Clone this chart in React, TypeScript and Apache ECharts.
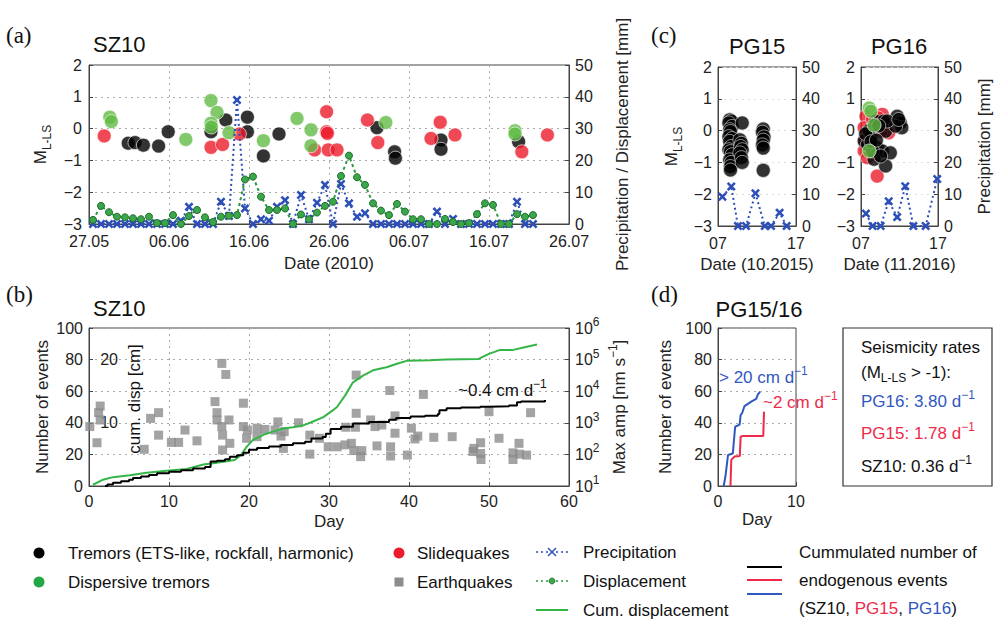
import React, { useEffect, useRef } from 'react';
import * as echarts from 'echarts';

const FONT = '"Liberation Sans", Arial, sans-serif';
const SERIF = '"Liberation Serif", "Times New Roman", serif';

// tick labels
const dateLabels = ['27.05', '06.06', '16.06', '26.06', '06.07', '16.07', '26.07'];
const dayLabelsC = ['07', '17'];
const startDayC = 7;

// (a) SZ10 events: [day since 27.05, M_L-LS]
const tremorsA = [[4.9, -0.46], [5.75, -0.44], [6.8, -0.52], [8.7, -0.55], [9.9, -0.1], [15.25, -0.1], [17.1, 0.27], [19.8, 0.36], [19.8, -0.1], [21.8, -0.86], [23.75, -0.17], [36, 0.03], [38.2, -0.73], [38.3, -0.93], [44, -0.36], [44, -0.65], [53.7, -0.41]];
const slidequakesA = [[1.9, -0.23], [15.25, -0.59], [16.7, -0.5], [18.8, -0.17], [28.2, -0.67], [29.7, 0.53], [29.7, -0.1], [29.8, -0.15], [29.9, -0.67], [31, -0.67], [34.8, 0.27], [36.1, -0.44], [42.75, -0.31], [43.9, 0.2], [45.75, -0.2], [54.1, -0.73], [57.3, -0.2]];
const dispersiveA = [[2.6, 0.36], [2.8, 0.22], [12.1, -0.34], [15.25, 0.88], [16.0, 0.51], [15.25, 0.17], [15.3, 0.05], [17.5, -0.13], [21.8, -0.38], [26, 0.32], [27.75, -0.04], [27.75, -0.54], [37.1, 0.19], [53.25, -0.07], [53.25, -0.17]];
// daily values (mm), first value at day 0.5
const precipA = [0, 0, 0, 0, 0, 0, 0, 0, 0, 0, 0, 1, 5.4, 0, 0, 0, 7, 2.5, 39, 4.9, 0, 1.5, 1, 5.4, 7.5, 0, 9.1, 1.5, 6.7, 12.3, 0, 12.6, 6.5, 2.3, 3.4, 0, 0, 0, 0, 0, 0, 0, 0, 3.9, 0, 1.6, 0, 0, 0, 0, 0, 0, 0, 7, 0, 0];
const dispA = [1.3, 5.7, 3.7, 2.3, 2.1, 1.8, 1.5, 2.3, 0.3, 0.3, 2.8, 0, 2.5, 4.4, 2.1, 0.6, 2.3, 2.6, 2.8, 14, 14.9, 8.6, 4.4, 4.4, 4.9, 0, 3, 1.5, 3.6, 5.7, 7, 15.1, 21.5, 14.7, 12.3, 6.5, 4.2, 2.8, 6.3, 3.9, 1.5, 1.5, 0, 0, 1.6, 0.6, 0, 0.3, 3.1, 6.5, 6, 0, 0, 3.1, 2.3, 2.8];

// (b) SZ10: earthquakes [day, max amp nm/s]
const earthquakesB = [[0.1, 760], [1.0, 234], [1.2, 2090], [1.4, 3390], [1.4, 1230], [6.9, 145], [7.7, 1380], [8.7, 2090], [8.7, 407], [10.3, 240], [11.2, 240], [12.0, 589], [13.5, 269], [15.75, 4680], [16, 2090], [16, 1230], [16.6, 75900], [16.6, 760], [16.7, 407], [16.7, 138], [17.1, 33900], [17.5, 1230], [17.6, 224], [19.3, 4170], [19.3, 760], [19.7, 324], [19.8, 589], [21, 676], [21, 363], [22, 617], [23.25, 589], [23.6, 1070], [24, 380], [24.3, 155], [24.4, 525], [26.2, 1000], [27.6, 407], [27.6, 102], [28.8, 324], [29.9, 174], [31, 174], [32, 200], [32.1, 724], [32.8, 224], [33.1, 132], [33.4, 32400], [33.4, 2000], [33.3, 724], [33.96, 85], [34.1, 132], [35.2, 1230], [35.75, 760], [36, 186], [36.6, 851], [37.6, 10500], [37.7, 174], [37.7, 89], [38.25, 1660], [38.25, 468], [39.8, 95], [40.3, 676], [40.75, 309], [41.1, 380], [41.8, 7940], [43.1, 347], [45.4, 363], [48, 123], [48.1, 155], [48.95, 234], [48.95, 107], [49, 69], [50, 2240], [51.25, 324], [53, 112], [53, 69], [53.75, 224], [53.8, 102], [54.7, 95], [55.2, 2090]];
// cumulated number of endogenous events SZ10 [day, count]
const cumEventsSZ10 = [[2, 0], [2.3, 1], [3, 2], [4, 3], [5, 4], [5.5, 5], [6.5, 6], [7.5, 7], [8.5, 8], [10, 9], [11.5, 10], [13, 11], [14.5, 12], [15.2, 15.5], [16, 16], [17, 17], [17.6, 18.5], [18.5, 19.5], [19.3, 21], [20, 23], [21, 24], [22.5, 25], [24, 26], [25.5, 27], [27, 28], [27.8, 30], [29.2, 31], [29.6, 33], [30.2, 36], [31.5, 37.5], [33, 39.5], [35, 40.5], [37.5, 42], [38.4, 43], [40.2, 44], [42, 44.5], [43.6, 45.5], [43.8, 48], [44.7, 49.2], [46.5, 49.7], [48.9, 50.2], [50, 50.5], [52.5, 51], [53.5, 53], [54, 53.5], [57, 54.5]];
// cumulative displacement [day, cm]
const cumDispB = [[0.5, 0.2], [1.75, 1.0], [3, 1.4], [5.1, 1.7], [7.2, 2.1], [9.7, 2.4], [12.2, 2.7], [14.3, 3.4], [15.5, 3.6], [17.2, 3.9], [18.2, 4.1], [19, 4.9], [19.7, 6.2], [20.5, 7.3], [21.8, 8.1], [23, 8.6], [24.3, 9.1], [25.5, 9.3], [26.8, 9.6], [28, 10.2], [29.3, 10.9], [30.5, 12], [31, 12.5], [32, 14.3], [33, 16.4], [34.3, 17.5], [35.5, 18.3], [37.2, 18.8], [38.4, 19.3], [39.7, 19.8], [42.6, 19.9], [44.6, 20.0], [48.7, 20.1], [50, 20.9], [51.3, 21.5], [52.9, 21.5], [54.6, 22], [56, 22.4]];

// (c) PG15 (10.2015) and PG16 (11.2016): [day of month, M_L-LS]
const pg15Tremors = [[8.5, 0.34], [8.7, 0.3], [8.4, 0.24], [8.8, 0.13], [8.5, 0.03], [8.6, -0.03], [8.4, -0.19], [8.8, -0.25], [8.5, -0.34], [8.7, -0.5], [8.4, -0.6], [8.6, -0.66], [8.8, -0.76], [8.5, -0.92], [8.7, -1.0], [8.6, -1.13], [8.6, -1.24], [10.1, 0.24], [9.8, -0.29], [10.0, -0.4], [9.9, -0.5], [10.1, -0.6], [9.8, -0.7], [10.0, -0.85], [10.1, -1.0], [12.8, 0.05], [12.7, -0.05], [12.9, -0.2], [12.8, -0.3], [12.7, -0.45], [12.8, -0.55], [12.8, -1.25]];
const pg15Precip = [[7.56, 9.2], [8.7, 12.4], [9.56, 0], [10.6, 0], [11.8, 10.3], [13, 0], [13.8, 0], [14.9, 4.2], [15.8, 0]];
const pg16Tremors = [[7.42, -0.33], [8.28, -0.17], [8.9, 0.3], [9.97, 0.3], [10.2, -0.02], [9.1, -0.54], [9.77, -0.64], [8.7, -0.9], [10.2, -1.11], [10.8, -0.7], [11.7, 0.45], [12.1, 0.24], [12.3, 0.09], [11.5, 0.14], [7.85, -0.43], [8.5, -0.64], [9.55, -0.8], [8.06, 0], [10.4, 0.3], [7.6, -0.1], [9.3, 0.15], [11.9, 0.35], [8.3, -0.35], [9.0, -0.3]];
const pg16Slidequakes = [[7.64, 0.45], [9.77, 0.51], [10.6, -0.07], [9.1, -1.43], [7.4, 0.09], [7.4, -0.64], [7.85, -0.85], [9.55, -0.02], [8.5, 0.35], [10.1, 0.2], [7.5, -0.3], [9.2, 0.4]];
const pg16Dispersive = [[8.06, 0.71], [8.28, 0.61], [8.7, 0.17], [8.06, -0.64]];
const pg16Precip = [[7.64, 3.9], [8.5, 0], [9.55, 0], [10.6, 7.8], [11.7, 2.8], [12.75, 12.5], [13.8, 0], [15.4, 0], [16.9, 14.8]];

// (d) cumulated events [day, count]
const cumPG15 = [[1.6, 0], [1.7, 16.5], [2.1, 18.6], [2.8, 19], [2.9, 31.2], [3.2, 31.6], [5.8, 31.6], [5.9, 47]];
const cumPG16 = [[0.73, 0], [0.95, 6], [1.28, 19.6], [1.9, 20.6], [2.2, 37.5], [2.77, 38.8], [2.9, 44.9], [3.1, 46.2], [3.4, 50.6], [4.26, 53.4], [4.9, 55.1], [5.1, 57.8], [5.4, 59.7]];

const BLACK = '#000000';
const RED = '#ec1c2c';
const GREEN = '#62bb46';
const LGREEN = '#21a845';
const BLUE = '#2d4fb8';
const DGREEN = '#2a9a3c';
const CUMGREEN = '#35b548';
const GRAY = '#8c8c8c';
const PRED = '#ee2a4a';
const PBLUE = '#3058c0';

const XSYM = 'path://M2,0L5,3L8,0L10,2L7,5L10,8L8,10L5,7L2,10L0,8L3,5L0,2Z';

const minus = (v: number) => (v < 0 ? '\u2212' + Math.abs(v) : String(v));
const lab = { color: '#222', fontSize: 16, fontFamily: FONT };
const nameStyle = { color: '#222', fontSize: 17, fontFamily: FONT };
const axLine = { show: true, onZero: false, lineStyle: { color: '#444', width: 1 } };
const tick = { show: true, inside: true, length: 4, lineStyle: { color: '#444' } };
const dotted = { show: true, lineStyle: { color: '#aaa', type: [2, 4], width: 1 } };
const faint = { show: true, lineStyle: { color: '#ddd', type: [2, 4], width: 1 } };
const noSplit = { show: false };

const subRich = {
  m: { fontSize: 17, fontFamily: FONT, color: '#222', lineHeight: 26 },
  s: { fontSize: 12, fontFamily: FONT, color: '#222', lineHeight: 12, verticalAlign: 'bottom' },
};
const supRich = (color: string, size = 17) => ({
  a: { fontSize: size, fontFamily: FONT, color, fill: color, lineHeight: 24 },
  s: { fontSize: 12, fontFamily: FONT, color, fill: color, lineHeight: 12, verticalAlign: 'top' },
});

const gridBase = { show: true, borderColor: '#444', borderWidth: 1, backgroundColor: 'transparent', containLabel: false, outerBoundsMode: 'none' };

function txt(x: number, y: number, text: string, opts: any = {}) {
  const align = opts.align || 'left';
  return {
    type: 'text', x, y, rotation: opts.rotation || 0, z: 100,
    style: {
      text, font: opts.font || `17px ${FONT}`, fill: opts.fill || '#111',
      align, textAlign: align, verticalAlign: 'middle', textVerticalAlign: 'middle',
      rich: opts.rich,
    },
  };
}

export default function App() {
  const ref = useRef<HTMLDivElement>(null);
  useEffect(() => {
    if (!ref.current) return;
    const chart = echarts.init(ref.current, undefined, { renderer: 'svg' });

    const offC = (arr: number[][]) => arr.map(([d, v]) => [d - startDayC, v]);
    const halfDay = (arr: number[]) => arr.map((v, i) => [i + 0.5, v]);

    const option: any = {
      animation: false,
      backgroundColor: '#ffffff',
      grid: [
        { ...gridBase, left: 89, top: 65, width: 480, height: 159 },
        { ...gridBase, left: 89, top: 328, width: 480, height: 158 },
        { ...gridBase, left: 718, top: 67, width: 78, height: 159 },
        { ...gridBase, left: 861, top: 67, width: 77, height: 159 },
        { ...gridBase, left: 718, top: 328, width: 78, height: 158 },
      ],
      xAxis: [
        {
          gridIndex: 0, type: 'value', min: 0, max: 60, interval: 10,
          axisLine: axLine, axisTick: tick, splitLine: dotted,
          axisLabel: { ...lab, margin: 9, formatter: (v: number) => dateLabels[Math.round(v / 10)] ?? '' },
          name: 'Date (2010)', nameLocation: 'middle', nameGap: 31, nameTextStyle: nameStyle,
        },
        {
          gridIndex: 1, type: 'value', min: 0, max: 60, interval: 10,
          axisLine: axLine, axisTick: tick, splitLine: dotted,
          axisLabel: { ...lab, margin: 7 },
          name: 'Day', nameLocation: 'middle', nameGap: 27, nameTextStyle: nameStyle,
        },
        {
          gridIndex: 2, type: 'value', min: 0, max: 10, interval: 10,
          axisLine: axLine, axisTick: tick, splitLine: noSplit,
          axisLabel: { ...lab, margin: 9, formatter: (v: number) => dayLabelsC[Math.round(v / 10)] ?? '' },
          name: 'Date (10.2015)', nameLocation: 'middle', nameGap: 30, nameTextStyle: nameStyle,
        },
        {
          gridIndex: 3, type: 'value', min: 0, max: 10, interval: 10,
          axisLine: axLine, axisTick: tick, splitLine: noSplit,
          axisLabel: { ...lab, margin: 9, formatter: (v: number) => dayLabelsC[Math.round(v / 10)] ?? '' },
          name: 'Date (11.2016)', nameLocation: 'middle', nameGap: 30, nameTextStyle: nameStyle,
        },
        {
          gridIndex: 4, type: 'value', min: 0, max: 10, interval: 10,
          axisLine: axLine, axisTick: tick, splitLine: noSplit,
          axisLabel: { ...lab, margin: 7 },
          name: 'Day', nameLocation: 'middle', nameGap: 25, nameTextStyle: nameStyle,
        },
      ],
      yAxis: [
        {
          gridIndex: 0, type: 'value', position: 'left', min: -3, max: 2, interval: 1,
          axisLine: axLine, axisTick: tick, splitLine: dotted,
          axisLabel: { ...lab, margin: 7, formatter: minus },
          name: '{m|M}{s|L-LS}', nameLocation: 'middle', nameGap: 36, nameTextStyle: { rich: subRich },
        },
        {
          gridIndex: 0, type: 'value', position: 'right', min: 0, max: 50, interval: 10,
          axisLine: axLine, axisTick: tick, splitLine: noSplit,
          axisLabel: { ...lab, margin: 6 },
          name: 'Precipitation / Displacement [mm]', nameLocation: 'middle', nameGap: 45, nameTextStyle: nameStyle,
        },
        {
          gridIndex: 1, type: 'value', position: 'left', min: 0, max: 100, interval: 20,
          axisLine: axLine, axisTick: tick, splitLine: dotted,
          axisLabel: { ...lab, margin: 6 },
          name: 'Number of events', nameLocation: 'middle', nameGap: 38, nameTextStyle: nameStyle,
        },
        {
          gridIndex: 1, type: 'log', logBase: 10, position: 'right', min: 10, max: 1000000,
          axisLine: axLine, axisTick: tick, splitLine: noSplit,
          axisLabel: {
            ...lab, margin: 6,
            formatter: (v: number) => `{a|10}{s|${Math.round(Math.log10(v))}}`,
            rich: supRich('#222', 16),
          },
          name: '{a|Max amp [nm s}{s|\u22121}{a|]}', nameLocation: 'middle', nameGap: 38,
          nameTextStyle: { rich: supRich('#222', 17) },
        },
        {
          gridIndex: 1, type: 'value', position: 'left', offset: -37, min: 0, max: 25, interval: 10,
          axisLine: { show: false }, axisTick: { show: false }, splitLine: noSplit,
          axisLabel: { ...lab, margin: 8, formatter: (v: number) => (v === 10 || v === 20 ? String(v) : '') },
        },
        {
          gridIndex: 2, type: 'value', position: 'left', min: -3, max: 2, interval: 1,
          axisLine: axLine, axisTick: tick, splitLine: faint,
          axisLabel: { ...lab, margin: 6, formatter: minus },
          name: '{m|M}{s|L-LS}', nameLocation: 'middle', nameGap: 34, nameTextStyle: { rich: subRich },
        },
        {
          gridIndex: 2, type: 'value', position: 'right', min: 0, max: 50, interval: 10,
          axisLine: axLine, axisTick: tick, splitLine: noSplit,
          axisLabel: { ...lab, margin: 6 },
        },
        {
          gridIndex: 3, type: 'value', position: 'left', min: -3, max: 2, interval: 1,
          axisLine: axLine, axisTick: tick, splitLine: faint,
          axisLabel: { ...lab, margin: 6, formatter: minus },
        },
        {
          gridIndex: 3, type: 'value', position: 'right', min: 0, max: 50, interval: 10,
          axisLine: axLine, axisTick: tick, splitLine: noSplit,
          axisLabel: { ...lab, margin: 6 },
          name: 'Precipitation [mm]', nameLocation: 'middle', nameGap: 38, nameTextStyle: nameStyle,
        },
        {
          gridIndex: 4, type: 'value', position: 'left', min: 0, max: 100, interval: 20,
          axisLine: axLine, axisTick: tick, splitLine: dotted,
          axisLabel: { ...lab, margin: 6 },
          name: 'Number of events', nameLocation: 'middle', nameGap: 44, nameTextStyle: nameStyle,
        },
      ],
      series: [
        // (a)
        { type: 'scatter', xAxisIndex: 0, yAxisIndex: 0, data: tremorsA, symbolSize: 14, itemStyle: { color: BLACK, borderColor: '#fff', borderWidth: 0.8 } },
        { type: 'scatter', xAxisIndex: 0, yAxisIndex: 0, data: slidequakesA, symbolSize: 14, itemStyle: { color: RED, borderColor: '#fff', borderWidth: 0.8 } },
        { type: 'scatter', xAxisIndex: 0, yAxisIndex: 0, data: dispersiveA, symbolSize: 14, itemStyle: { color: GREEN, borderColor: '#fff', borderWidth: 0.8 } },
        { type: 'line', xAxisIndex: 0, yAxisIndex: 1, data: halfDay(precipA), symbol: XSYM, symbolSize: 9, lineStyle: { color: BLUE, width: 2, type: [2, 3] }, itemStyle: { color: BLUE } },
        { type: 'line', xAxisIndex: 0, yAxisIndex: 1, data: halfDay(dispA), symbol: 'circle', symbolSize: 7, lineStyle: { color: DGREEN, width: 2, type: [3, 3] }, itemStyle: { color: '#3aa84a', borderColor: '#1d6b2a', borderWidth: 1 } },
        // (b)
        { type: 'scatter', xAxisIndex: 1, yAxisIndex: 3, data: earthquakesB, symbol: 'rect', symbolSize: 9, itemStyle: { color: GRAY } },
        { type: 'line', xAxisIndex: 1, yAxisIndex: 4, data: cumDispB, showSymbol: false, symbol: 'none', lineStyle: { color: CUMGREEN, width: 2 } },
        { type: 'line', xAxisIndex: 1, yAxisIndex: 2, data: cumEventsSZ10, step: 'end', showSymbol: false, symbol: 'none', lineStyle: { color: BLACK, width: 2 } },
        // (c) PG15
        { type: 'scatter', xAxisIndex: 2, yAxisIndex: 5, data: offC(pg15Tremors), symbolSize: 14, itemStyle: { color: BLACK, borderColor: '#ddd', borderWidth: 0.8 } },
        { type: 'line', xAxisIndex: 2, yAxisIndex: 6, data: offC(pg15Precip), symbol: XSYM, symbolSize: 9, lineStyle: { color: BLUE, width: 2, type: [2, 3] }, itemStyle: { color: BLUE } },
        // (c) PG16
        { type: 'scatter', xAxisIndex: 3, yAxisIndex: 7, data: offC(pg16Slidequakes), symbolSize: 14, itemStyle: { color: RED, borderColor: '#fff', borderWidth: 0.8 } },
        { type: 'scatter', xAxisIndex: 3, yAxisIndex: 7, data: offC(pg16Tremors), symbolSize: 14, itemStyle: { color: BLACK, borderColor: '#ddd', borderWidth: 0.8 } },
        { type: 'scatter', xAxisIndex: 3, yAxisIndex: 7, data: offC(pg16Dispersive), symbolSize: 14, itemStyle: { color: GREEN, borderColor: '#fff', borderWidth: 0.8 } },
        { type: 'line', xAxisIndex: 3, yAxisIndex: 8, data: offC(pg16Precip), symbol: XSYM, symbolSize: 9, lineStyle: { color: BLUE, width: 2, type: [2, 3] }, itemStyle: { color: BLUE } },
        // (d)
        { type: 'line', xAxisIndex: 4, yAxisIndex: 9, data: cumPG15, symbol: 'none', lineStyle: { color: PRED, width: 2 } },
        { type: 'line', xAxisIndex: 4, yAxisIndex: 9, data: cumPG16, symbol: 'none', lineStyle: { color: PBLUE, width: 2 } },
      ],
      graphic: [
        txt(6, 35, '(a)', { font: `23px ${SERIF}` }),
        txt(93, 44, 'SZ10', { font: `22px ${FONT}` }),
        txt(6, 294, '(b)', { font: `23px ${SERIF}` }),
        txt(93, 308, 'SZ10', { font: `22px ${FONT}` }),
        txt(651, 35, '(c)', { font: `23px ${SERIF}` }),
        txt(757, 46, 'PG15', { font: `22px ${FONT}`, align: 'center' }),
        txt(899, 46, 'PG16', { font: `22px ${FONT}`, align: 'center' }),
        txt(651, 294, '(d)', { font: `23px ${SERIF}` }),
        txt(759, 309, 'PG15/16', { font: `22px ${FONT}`, align: 'center' }),
        txt(134, 399, 'cum. disp [cm]', { align: 'center', rotation: Math.PI / 2 }),
        txt(458, 390, '{a|~0.4 cm d}{s|\u22121}', { rich: supRich('#111', 17) }),
        txt(719, 377, '{a|> 20 cm d}{s|\u22121}', { rich: supRich(PBLUE, 17) }),
        txt(763, 402, '{a|~2 cm d}{s|\u22121}', { rich: supRich(PRED, 17) }),
        { type: 'rect', shape: { x: 843, y: 328, width: 149, height: 158 }, style: { fill: 'none', stroke: '#333', lineWidth: 1.2 } },
        txt(861, 347, 'Seismicity rates'),
        txt(861, 372, '{m|(M}{s|L-LS}{m| > -1):}', { rich: { m: { fontSize: 17, fontFamily: FONT, fill: '#111', lineHeight: 24 }, s: { fontSize: 12, fontFamily: FONT, fill: '#111', lineHeight: 12, verticalAlign: 'bottom' } } }),
        txt(861, 401, '{a|PG16: 3.80 d}{s|\u22121}', { rich: supRich(PBLUE, 17), fill: PBLUE }),
        txt(861, 433, '{a|PG15: 1.78 d}{s|\u22121}', { rich: supRich(PRED, 17), fill: PRED }),
        txt(861, 466, '{a|SZ10: 0.36 d}{s|\u22121}', { rich: supRich('#111', 17) }),
        // legend
        { type: 'circle', shape: { cx: 39, cy: 553, r: 5.5 }, style: { fill: BLACK } },
        txt(68, 553, 'Tremors (ETS-like, rockfall, harmonic)'),
        { type: 'circle', shape: { cx: 39, cy: 582, r: 5.5 }, style: { fill: LGREEN } },
        txt(68, 582, 'Dispersive tremors'),
        { type: 'circle', shape: { cx: 399, cy: 553, r: 5.5 }, style: { fill: RED } },
        txt(417, 553, 'Slidequakes'),
        { type: 'rect', shape: { x: 394.5, y: 577.5, width: 9, height: 9 }, style: { fill: GRAY } },
        txt(417, 582, 'Earthquakes'),
        { type: 'line', shape: { x1: 536, y1: 552, x2: 568, y2: 552 }, style: { stroke: BLUE, lineWidth: 1.5, lineDash: [2, 3] } },
        { type: 'line', shape: { x1: 548, y1: 548, x2: 556, y2: 556 }, style: { stroke: BLUE, lineWidth: 1.5 } },
        { type: 'line', shape: { x1: 548, y1: 556, x2: 556, y2: 548 }, style: { stroke: BLUE, lineWidth: 1.5 } },
        txt(583, 552, 'Precipitation'),
        { type: 'line', shape: { x1: 536, y1: 581, x2: 568, y2: 581 }, style: { stroke: DGREEN, lineWidth: 1.5, lineDash: [2, 3] } },
        { type: 'circle', shape: { cx: 552, cy: 581, r: 3 }, style: { fill: '#3aa84a', stroke: '#1d6b2a', lineWidth: 0.8 } },
        txt(583, 581, 'Displacement'),
        { type: 'line', shape: { x1: 536, y1: 610, x2: 568, y2: 610 }, style: { stroke: CUMGREEN, lineWidth: 2 } },
        txt(583, 610, 'Cum. displacement'),
        { type: 'line', shape: { x1: 747, y1: 567, x2: 782, y2: 567 }, style: { stroke: BLACK, lineWidth: 2 } },
        { type: 'line', shape: { x1: 747, y1: 580, x2: 782, y2: 580 }, style: { stroke: PRED, lineWidth: 2 } },
        { type: 'line', shape: { x1: 747, y1: 594, x2: 782, y2: 594 }, style: { stroke: PBLUE, lineWidth: 2 } },
        txt(799, 552, 'Cummulated number of'),
        txt(799, 580, 'endogenous events'),
        txt(799, 608, '{k|(SZ10, }{r|PG15}{k|, }{b|PG16}{k|)}', {
          rich: {
            k: { fontSize: 17, fontFamily: FONT, fill: '#111' },
            r: { fontSize: 17, fontFamily: FONT, fill: PRED },
            b: { fontSize: 17, fontFamily: FONT, fill: PBLUE },
          },
        }),
      ],
    };

    chart.setOption(option);
    return () => chart.dispose();
  }, []);

  return <div ref={ref} style={{ position: 'absolute', left: 0, top: 0, width: 997, height: 620, background: '#fff' }} />;
}
